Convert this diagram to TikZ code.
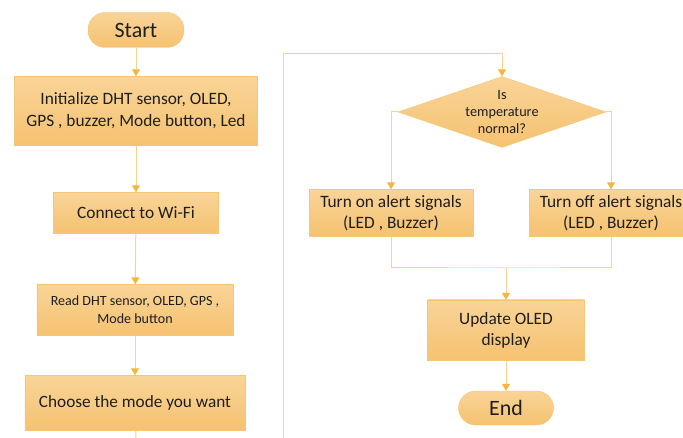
\documentclass[tikz,border=0pt]{standalone}
\usepackage{fontspec}
\setmainfont{Carlito}
\usetikzlibrary{shapes.geometric, arrows.meta, positioning, calc}
\definecolor{boxtop}{RGB}{249,212,152}
\definecolor{boxbot}{RGB}{245,194,112}
\definecolor{boxline}{RGB}{246,198,116}
\definecolor{flowline}{RGB}{249,210,140}
\definecolor{tipcol}{RGB}{245,182,62}
\definecolor{txt}{RGB}{30,30,30}

\begin{document}
\begin{tikzpicture}[x=1bp, y=-1bp,
    stepbox/.style={rectangle, draw=boxline, top color=boxtop, bottom color=boxbot, text=txt, text centered, align=center, inner sep=0pt, font=\fontsize{17.4}{21}\selectfont},
    terminal/.style={stepbox, rounded corners=17bp, minimum height=35bp, font=\fontsize{22}{24}\selectfont},
    decision/.style={diamond, draw=boxline, top color=boxtop, bottom color=boxbot, text=txt, align=center, inner xsep=-30bp, inner ysep=-20bp, minimum width=208bp, minimum height=71bp, font=\fontsize{14.3}{17.5}\selectfont},
    arrow/.style={draw=flowline, line width=1bp, -{Triangle[width=8bp,length=7bp,color=tipcol]}},
    line/.style={draw=flowline, line width=1bp}
]
    \clip (0,0) rectangle (683,438);

    % Left column
    \node[terminal, minimum width=96bp] (start) at (136,30) {Start};
    \node[stepbox, minimum width=243bp, minimum height=69bp, font=\fontsize{17.4}{22}\selectfont] (init) at (136,111) {Initialize DHT sensor, OLED,\\GPS , buzzer, Mode button, Led};
    \node[stepbox, minimum width=165bp, minimum height=41bp] (wifi) at (136,213) {Connect to Wi-Fi};
    \node[stepbox, minimum width=196bp, minimum height=51bp, font=\fontsize{14.1}{18}\selectfont] (read) at (135,310) {Read DHT sensor, OLED, GPS ,\\ Mode button};
    \node[stepbox, minimum width=220bp, minimum height=55bp, font=\fontsize{17.3}{18}\selectfont] (mode) at (135,403) {Choose the mode you want};
    \coordinate (leftend) at (136,440);

    % Loop line
    \coordinate (loopbot) at (283,440);
    \coordinate (looptop) at (283,54);

    % Right column
    \node[decision] (check) at (502,112) {Is\\temperature\\normal?};
    \node[stepbox, minimum width=164bp, minimum height=47bp] (alerton) at (391,213) {Turn on alert signals\\(LED , Buzzer)};
    \node[stepbox, minimum width=164bp, minimum height=47bp] (alertoff) at (611,213) {Turn off alert signals\\(LED , Buzzer)};
    \coordinate (merge) at (506,268);
    \node[stepbox, minimum width=157bp, minimum height=60bp] (oled) at (506,330) {Update OLED\\display};
    \node[terminal, minimum width=95bp, minimum height=34bp] (finish) at (506,408) {End};

    % Connect components
    \draw[arrow] (start) -- (init);
    \draw[arrow] (init) -- (wifi);
    \draw[arrow] (wifi) -- (read);
    \draw[arrow] (read) -- (mode);
    \draw[line] (mode) -- (leftend);
    \draw[arrow] (loopbot) -- (looptop) -| (check.north);
    \draw[arrow] (check.west) -| (alerton.north);
    \draw[arrow] (check.east) -| (alertoff.north);
    \draw[line] (alerton.south) |- (merge) -| (alertoff.south);
    \draw[arrow] (merge) -- (oled);
    \draw[arrow] (oled) -- (finish);
\end{tikzpicture}
\end{document}
